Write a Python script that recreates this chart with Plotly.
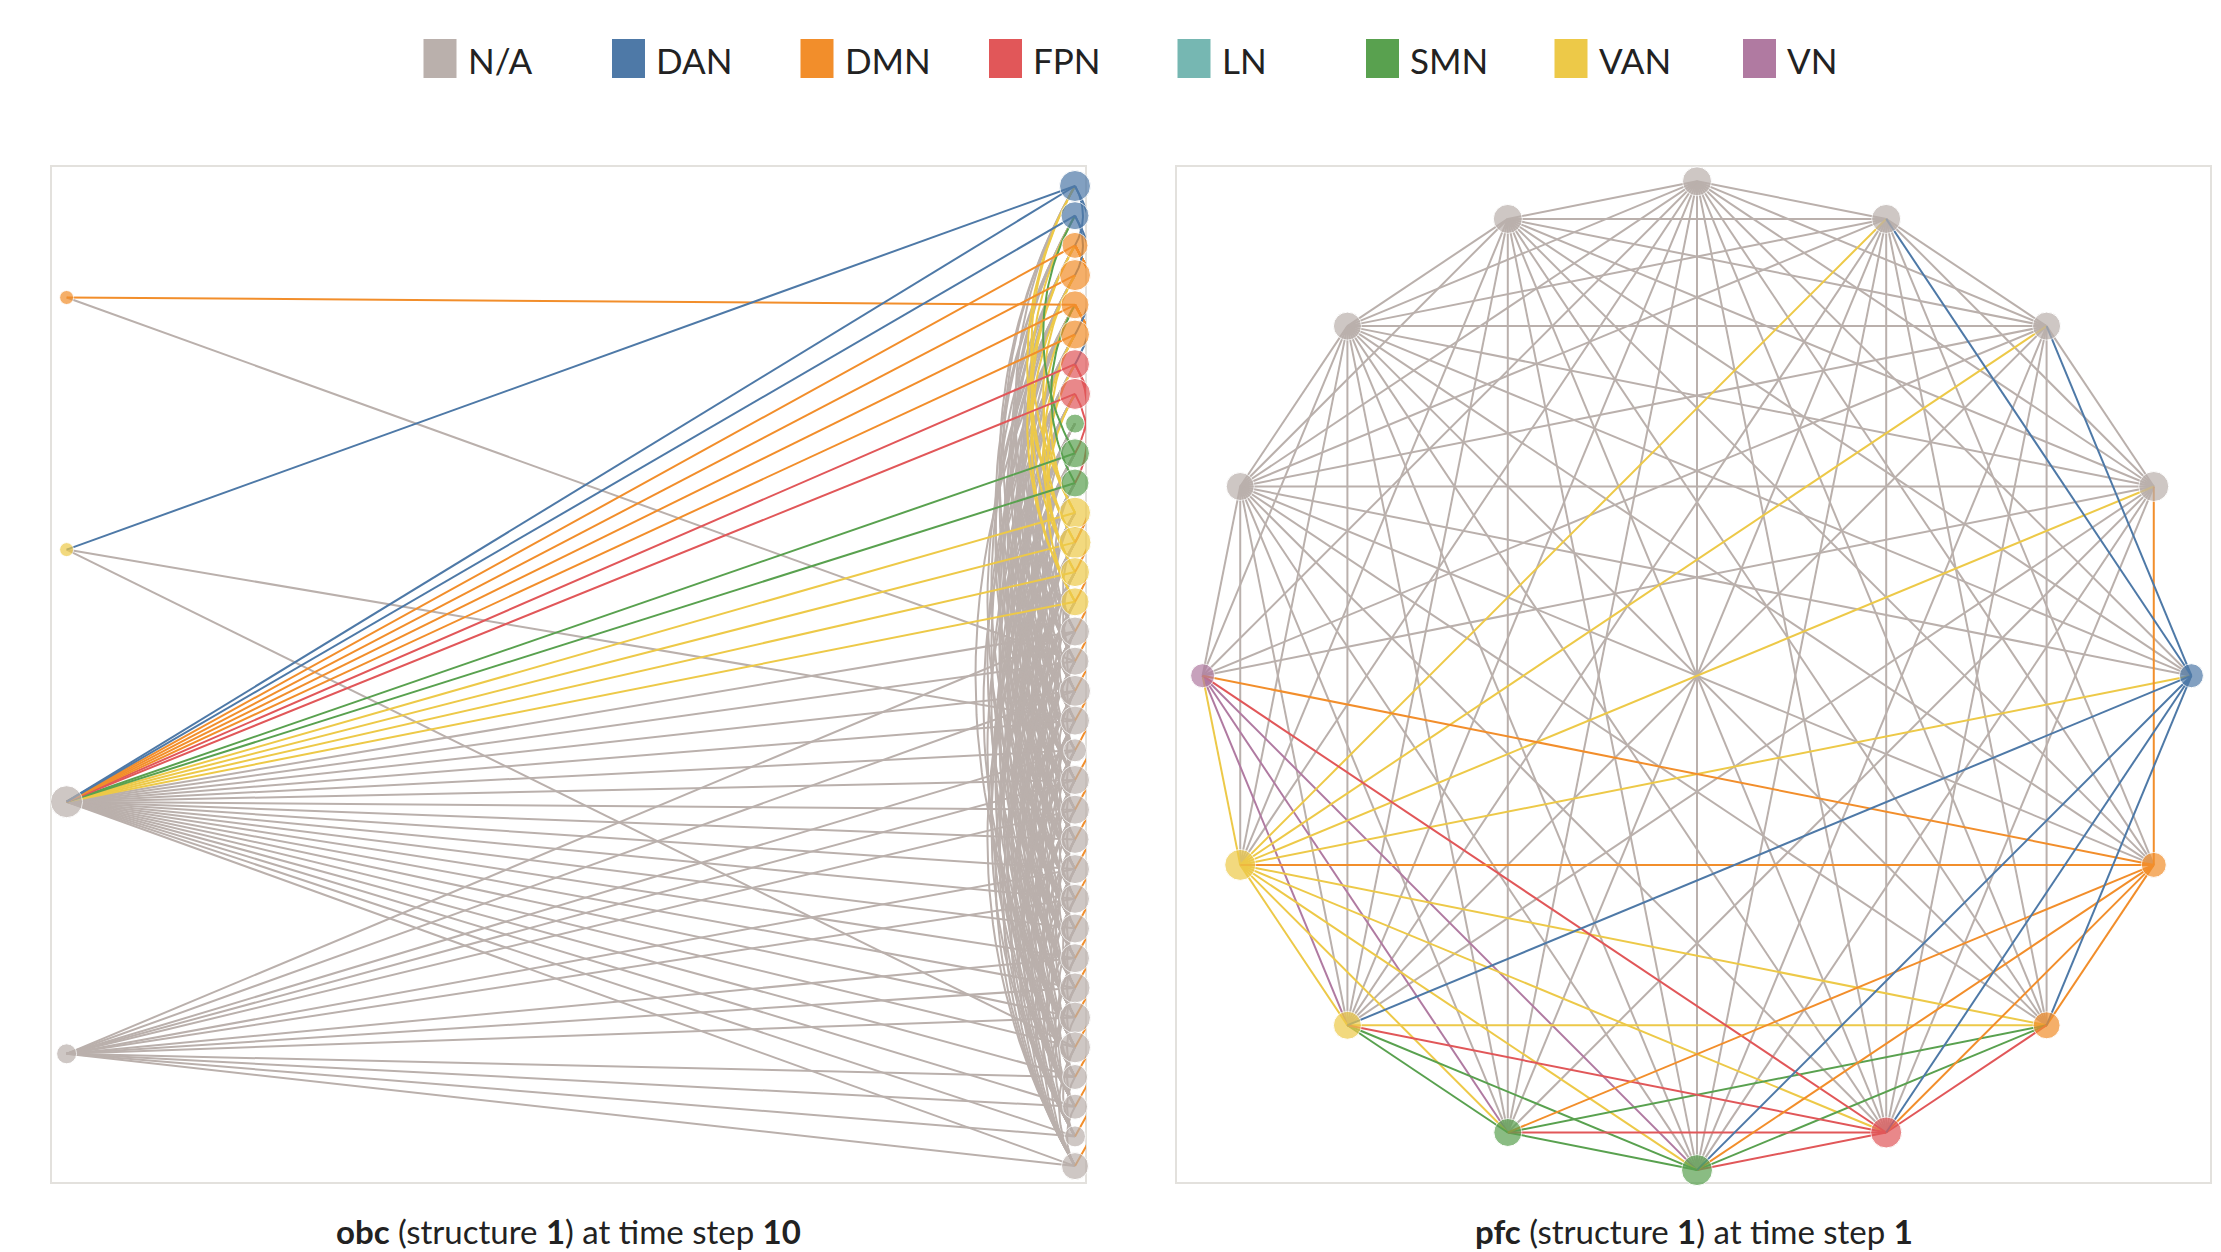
import math
import plotly.graph_objects as go

# ---------------- categories / colours ----------------
CATS = ["N/A", "DAN", "DMN", "FPN", "LN", "SMN", "VAN", "VN"]
CAT_COLORS = ["#bab0ac", "#4e79a7", "#f28e2b", "#e15759", "#76b7b2", "#59a14f", "#edc948", "#b07aa1"]
COLOR = dict(zip(CATS, CAT_COLORS))

# ---------------- left panel (obc, time step 10) ----------------
left_cat = ["DMN", "VAN", "N/A", "N/A"]
left_size = [14, 14, 32, 20]

right_cat = ["DAN", "DAN", "DMN", "DMN", "DMN", "DMN", "FPN", "FPN", "SMN", "SMN", "SMN",
             "VAN", "VAN", "VAN", "VAN"] + ["N/A"] * 19
right_size = [31, 28, 26, 31, 28, 29, 29, 31, 19, 29, 28, 31, 32, 29, 28,
              29, 28, 31, 29, 23, 29, 29, 28, 29, 29, 29, 29, 30, 31, 31, 25, 25, 21, 27]

# straight links: left node index -> right node index
link_left = [0, 0, 1, 1, 1] + [2] * 33 + [3] * 14
link_right = [4, 16, 0, 18, 29,
              0, 1, 2, 3, 4, 5, 6, 7, 9, 10, 11, 12, 13, 14,
              15, 16, 17, 18, 19, 20, 21, 22, 23, 24, 25, 26, 27, 28, 29, 30, 31, 32, 33,
              15, 17, 19, 20, 21, 23, 24, 26, 27, 28, 30, 31, 32, 33]

# arcs between right-column nodes (source -> target); colour = source group
arc_src = [15, 15, 15, 15, 15, 15, 15,
           16, 16, 16, 16, 16, 16, 16,
           17, 17, 17, 17, 17, 17, 17, 17,
           18, 18, 18, 18, 18, 18, 18, 18, 18,
           19, 19, 19, 19, 19, 19, 19, 19, 19,
           20, 20, 20, 20, 20, 20, 20, 20, 20,
           21, 21, 21, 21, 21, 21, 21, 21, 21, 21,
           22, 22, 22, 22, 22, 22, 22, 22, 22, 22,
           23, 23, 23, 23, 23, 23, 23, 23, 23, 23,
           24, 24, 24, 24, 24, 24, 24, 24, 24, 24,
           25, 25, 25, 25, 25, 25, 25, 25, 25, 25, 25,
           26, 26, 26, 26, 26, 26, 26, 26, 26, 26,
           27, 27, 27, 27, 27, 27, 27, 27, 27, 27, 27,
           28, 28, 28, 28, 28, 28, 28, 28, 28, 28,
           29, 29, 29, 29, 29, 29, 29, 29, 29, 29, 29, 29,
           30, 30, 30, 30, 30, 30, 30, 30, 30, 30, 30,
           31, 31, 31, 31, 31, 31, 31, 31, 31, 31, 31,
           32, 32, 32, 32, 32, 32, 32, 32, 32, 32, 32,
           33, 33, 33, 33, 33, 33, 33, 33, 33, 33, 33,
           11, 12, 13, 14, 12, 13, 14, 11, 11, 12, 13, 14,
           9, 10,
           6, 7, 6,
           0, 0, 1, 1,
           2, 2, 2, 2, 2, 2, 2, 2, 2, 2, 2,
           4, 4, 4, 4, 4, 4, 4, 4, 4, 4, 4]
arc_dst = [2, 6, 10, 12, 0, 4, 8,
           1, 5, 9, 13, 3, 7, 11,
           3, 7, 11, 15, 1, 5, 9, 13,
           0, 4, 8, 12, 16, 2, 6, 10, 14,
           2, 6, 10, 14, 17, 0, 4, 8, 12,
           3, 5, 9, 13, 18, 1, 7, 11, 15,
           1, 7, 11, 15, 19, 3, 5, 9, 13, 17,
           4, 8, 12, 16, 20, 2, 6, 10, 14, 18,
           6, 10, 14, 18, 21, 4, 8, 12, 16, 19,
           5, 9, 13, 17, 22, 3, 7, 11, 15, 20,
           3, 8, 11, 15, 19, 23, 6, 10, 13, 17, 21,
           7, 12, 16, 20, 24, 5, 9, 14, 18, 22,
           5, 10, 14, 18, 22, 25, 8, 12, 16, 20, 24,
           9, 13, 17, 21, 26, 7, 11, 15, 19, 23,
           4, 11, 15, 19, 23, 27, 6, 9, 13, 17, 21, 25,
           8, 12, 16, 20, 24, 28, 10, 14, 18, 22, 26,
           10, 14, 18, 22, 26, 29, 12, 16, 20, 24, 27,
           13, 17, 21, 25, 30, 11, 15, 19, 23, 27, 29,
           11, 15, 19, 23, 27, 31, 13, 17, 21, 25, 29,
           0, 1, 2, 3, 4, 6, 7, 5, 3, 0, 5, 2,
           1, 4,
           9, 10, 12,
           2, 5, 3, 6,
           12, 14, 16, 18, 20, 22, 24, 26, 28, 30, 32,
           13, 15, 17, 19, 21, 23, 25, 27, 29, 31, 33]

# ---------------- right panel (pfc, time step 1) ----------------
ring_cat = ["N/A", "N/A", "N/A", "N/A", "DAN", "DMN", "DMN", "FPN", "SMN", "SMN",
            "VAN", "VAN", "VN", "N/A", "N/A", "N/A"]
ring_size = [29, 29, 28, 30, 24, 25, 27, 31, 31, 28, 28, 31, 24, 28, 28, 29]

ring_a = [0, 0, 0, 0, 0, 0, 1, 1, 1, 1, 1, 2, 2, 2, 2, 3, 3, 3, 13, 13, 14,
          4, 4, 4, 4, 4, 4, 4, 4, 4, 4, 4,
          5, 5, 5, 5, 5, 5, 5, 5, 5, 5, 5, 5,
          6, 6, 6, 6, 6, 6, 6, 6, 6, 6, 6,
          7, 7, 7, 7, 7, 7, 7, 7, 7, 7, 7, 7,
          8, 8, 8, 8, 8, 8, 8, 8, 8, 8, 8,
          9, 9, 9, 9, 9, 9, 9, 9, 9,
          10, 10, 10, 10, 10, 10, 10, 10, 10,
          11, 11, 11, 11, 11, 11, 11, 11,
          12, 12, 12, 12, 12]
ring_b = [1, 2, 3, 13, 14, 15, 2, 3, 13, 14, 15, 3, 13, 14, 15, 13, 14, 15, 14, 15, 15,
          0, 13, 14, 15, 1, 2, 6, 7, 8, 10, 11,
          13, 14, 15, 0, 1, 3, 6, 7, 8, 9, 11, 12,
          2, 13, 14, 15, 0, 1, 10, 11, 8, 9, 7,
          1, 0, 15, 14, 13, 2, 3, 8, 9, 10, 12, 11,
          0, 1, 2, 3, 13, 14, 15, 9, 10, 11, 12,
          15, 14, 13, 0, 1, 3, 10, 11, 12,
          14, 13, 15, 0, 1, 2, 3, 11, 12,
          13, 14, 15, 0, 1, 2, 3, 12,
          13, 14, 0, 2, 3]
ring_edge_cat = (["N/A"] * 21 +
                 ["N/A"] * 4 + ["DAN"] * 6 + ["VAN"] +
                 ["N/A"] * 5 + ["DMN"] * 7 +
                 ["N/A"] * 6 + ["VAN", "VAN", "SMN", "SMN", "FPN"] +
                 ["N/A"] * 7 + ["FPN"] * 4 + ["VAN"] +
                 ["N/A"] * 7 + ["SMN", "SMN", "VAN", "VN"] +
                 ["N/A"] * 6 + ["SMN", "VAN", "VN"] +
                 ["N/A"] * 7 + ["VAN", "VN"] +
                 ["N/A"] * 4 + ["VAN"] * 4 +
                 ["N/A"] * 5)

legend_labels = CATS
caption_left = "<b>obc</b> (structure <b>1</b>) at time step <b>10</b>"
caption_right = "<b>pfc</b> (structure <b>1</b>) at time step <b>1</b>"

# ---------------- layout geometry (pixels of the 2221x1252 page) ----------------
W, H = 2221, 1252
OFF = 8            # default page margin around the plot div
LBOX = (51, 166, 1086, 1183)
RBOX = (1176, 166, 2211, 1183)
LX, RX = 66.6, 1075.0
R_TOP, R_STEP = 186.0, 29.7
L_TOP, L_STEP = 297.5, 252.1
CX, CY, RAD = 1697.0, 675.7, 494.4
FONT = "Lato, 'Open Sans', sans-serif"
LW = 2


def px(x):
    return (x - OFF) / W


def py(y):
    return 1 - (y - OFF) / H


def ry(i):
    return R_TOP + i * R_STEP


def ly(i):
    return L_TOP + i * L_STEP


def ring_xy(k):
    th = math.radians(90 - 22.5 * k)
    return CX + RAD * math.cos(th), CY - RAD * math.sin(th)


def arc_points(sx, sy, tx, ty, n=40):
    dx, dy = tx - sx, ty - sy
    d = math.hypot(dx, dy)
    ux, uy = dx / d, dy / d
    nx, ny = -uy, ux
    h = d * math.sqrt(3) / 2
    cx, cy = (sx + tx) / 2 + h * nx, (sy + ty) / 2 + h * ny
    a0 = math.atan2(sy - cy, sx - cx)
    a1 = math.atan2(ty - cy, tx - cx)
    da = (a1 - a0) % (2 * math.pi)
    xs, ys = [], []
    for i in range(n + 1):
        a = a0 + da * i / n
        xs.append(cx + d * math.cos(a))
        ys.append(cy + d * math.sin(a))
    return xs, ys


fig = go.Figure()


def add_lines(xs, ys, color, xa, ya):
    fig.add_trace(go.Scatter(x=xs, y=ys, mode="lines", line=dict(color=color, width=LW),
                             hoverinfo="skip", showlegend=False, xaxis=xa, yaxis=ya))


order = ["N/A", "VN", "LN", "VAN", "SMN", "FPN", "DMN", "DAN"]

# ---- left panel edges ----
for cat in order:
    xs, ys = [], []
    for a, b in zip(link_left, link_right):
        if right_cat[b] == cat:
            xs += [LX, RX, None]
            ys += [ly(a), ry(b), None]
    for s, t in zip(arc_src, arc_dst):
        if right_cat[s] == cat:
            ax, ay = arc_points(RX, ry(s), RX, ry(t))
            xs += ax + [None]
            ys += ay + [None]
    if xs:
        add_lines(xs, ys, COLOR[cat], "x", "y")

# ---- left panel nodes ----
fig.add_trace(go.Scatter(
    x=[LX] * len(left_cat), y=[ly(i) for i in range(len(left_cat))], mode="markers",
    marker=dict(size=left_size, color=[COLOR[c] for c in left_cat], line=dict(color="white", width=1)),
    cliponaxis=False, hoverinfo="skip", showlegend=False, xaxis="x", yaxis="y"))
fig.add_trace(go.Scatter(
    x=[RX] * len(right_cat), y=[ry(i) for i in range(len(right_cat))], mode="markers",
    marker=dict(size=right_size, color=[COLOR[c] for c in right_cat], line=dict(color="white", width=1)),
    cliponaxis=False, hoverinfo="skip", showlegend=False, xaxis="x", yaxis="y"))

# ---- right panel edges ----
for cat in order:
    xs, ys = [], []
    for a, b, c in zip(ring_a, ring_b, ring_edge_cat):
        if c == cat:
            x0, y0 = ring_xy(a)
            x1, y1 = ring_xy(b)
            xs += [x0, x1, None]
            ys += [y0, y1, None]
    if xs:
        add_lines(xs, ys, COLOR[cat], "x2", "y2")

rx_, ry_ = zip(*[ring_xy(k) for k in range(len(ring_cat))])
fig.add_trace(go.Scatter(
    x=list(rx_), y=list(ry_), mode="markers",
    marker=dict(size=ring_size, color=[COLOR[c] for c in ring_cat], line=dict(color="white", width=1)),
    cliponaxis=False, hoverinfo="skip", showlegend=False, xaxis="x2", yaxis="y2"))

# ---------------- layout ----------------
ax_common = dict(visible=False, showgrid=False, zeroline=False, fixedrange=True)
shapes = []
for box in (LBOX, RBOX):
    shapes.append(dict(type="rect", xref="paper", yref="paper",
                       x0=px(box[0]), x1=px(box[2]), y0=py(box[3]), y1=py(box[1]),
                       line=dict(color="#e3e1dd", width=2), fillcolor="rgba(0,0,0,0)", layer="below"))

annotations = []
SW_X0, SW_STEP, SW_W, SW_TOP, SW_H = 423.5, 188.5, 33, 39, 39
for i, lab in enumerate(legend_labels):
    x0 = SW_X0 + i * SW_STEP
    shapes.append(dict(type="rect", xref="paper", yref="paper",
                       x0=px(x0), x1=px(x0 + SW_W), y0=py(SW_TOP + SW_H), y1=py(SW_TOP),
                       line=dict(width=0), fillcolor=COLOR[lab]))
    annotations.append(dict(text=lab, xref="paper", yref="paper", x=px(x0 + SW_W + 9),
                            y=py(SW_TOP + SW_H / 2 + 1), xanchor="left", yanchor="middle",
                            showarrow=False, font=dict(family=FONT, size=35, color="#222")))

for box, cap in ((LBOX, caption_left), (RBOX, caption_right)):
    annotations.append(dict(text=cap, xref="paper", yref="paper", x=px((box[0] + box[2]) / 2),
                            y=py(1231), xanchor="center", yanchor="middle", showarrow=False,
                            font=dict(family=FONT, size=33, color="#222")))

fig.update_layout(
    width=W, height=H, autosize=False,
    margin=dict(l=0, r=0, t=0, b=0, pad=0),
    paper_bgcolor="white", plot_bgcolor="rgba(0,0,0,0)",
    xaxis=dict(domain=[px(LBOX[0]), px(LBOX[2])], range=[LBOX[0], LBOX[2]], **ax_common),
    yaxis=dict(domain=[py(LBOX[3]), py(LBOX[1])], range=[LBOX[3], LBOX[1]], **ax_common),
    xaxis2=dict(domain=[px(RBOX[0]), px(RBOX[2])], range=[RBOX[0], RBOX[2]], anchor="y2", **ax_common),
    yaxis2=dict(domain=[py(RBOX[3]), py(RBOX[1])], range=[RBOX[3], RBOX[1]], anchor="x2", **ax_common),
    shapes=shapes, annotations=annotations, showlegend=False,
)

fig.write_html("out.html")
